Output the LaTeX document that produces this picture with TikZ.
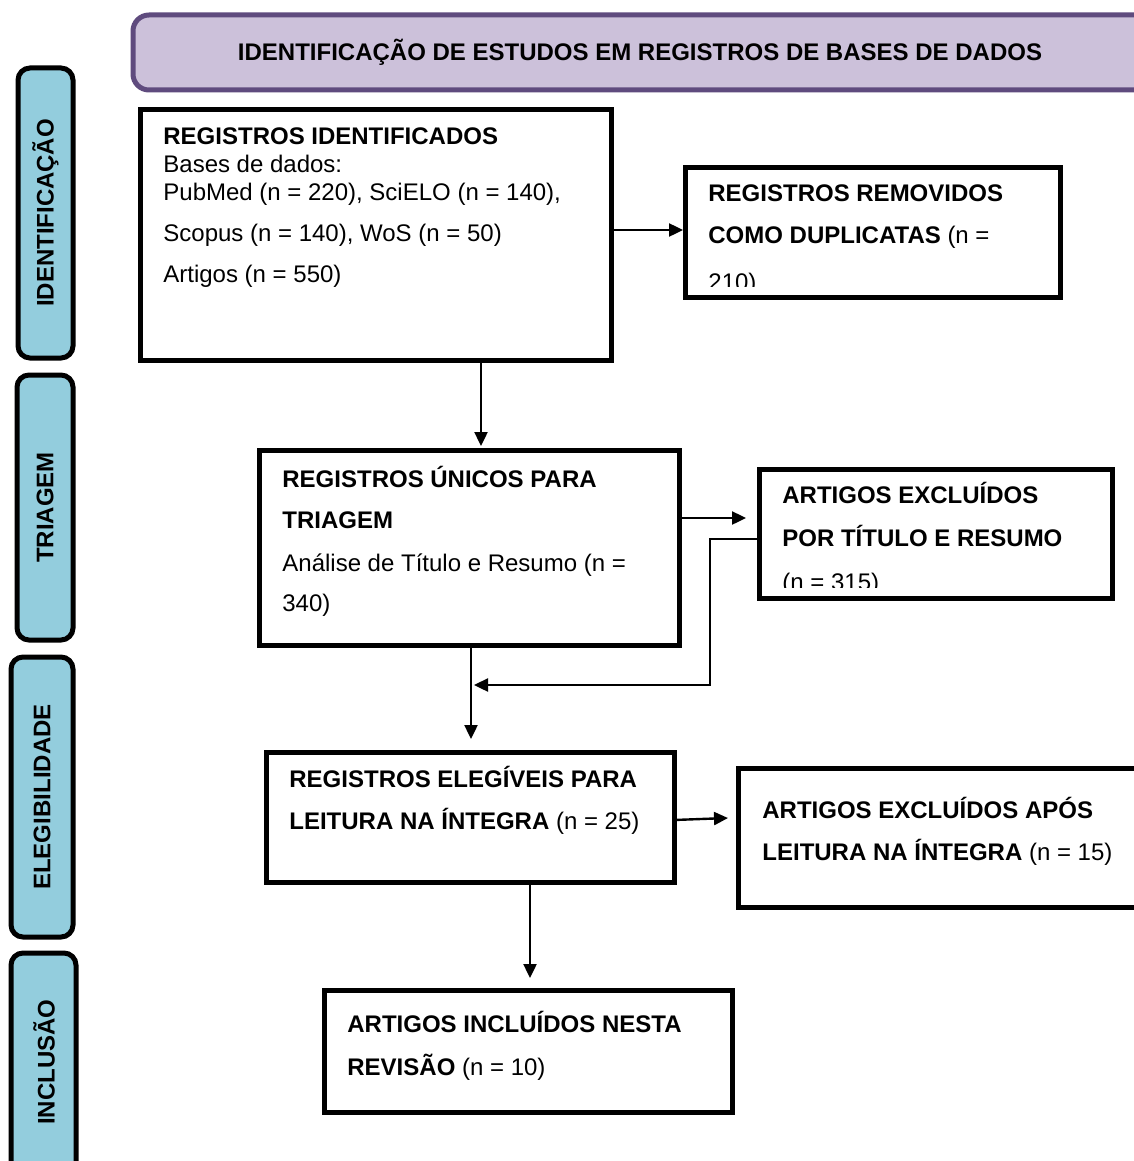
\documentclass[tikz,border=0pt]{standalone}
\usepackage{fontspec}
\setmainfont{Liberation Sans}
\usetikzlibrary{fit,arrows.meta}
\definecolor{banfill}{HTML}{CCC1DA}
\definecolor{banedge}{HTML}{5F4B7E}
\definecolor{tabblue}{HTML}{93CDDD}
\newcommand{\fsz}{\fontsize{12}{14.4}\selectfont}
\tikzset{
  box/.style={draw, line width=2.5pt, fill=white, inner sep=0pt},
  tabbox/.style={draw, line width=2.5pt, fill=tabblue, rounded corners=6pt, inner sep=0pt},
  txt/.style={anchor=base west, inner sep=0pt, font=\fsz},
  tablabel/.style={rotate=90, inner sep=0pt, font=\fsz\bfseries},
  conn/.style={line width=1.2pt, -{Triangle[length=7pt,width=6.5pt]}},
}
\begin{document}
\begin{tikzpicture}[x=0.5pt,y=-0.5pt]
\clip (0,0) rectangle (1134,1161);
\fill[white] (0,0) rectangle (1134,1161);

% banner
\node[draw=banedge, line width=2.5pt, fill=banfill, rounded corners=8pt, inner sep=0pt, fit={(133,15)(1170,90)}] (ban) {};
\node[inner sep=0pt, font=\fsz\bfseries, anchor=base] (bant) at (640,61) {IDENTIFICAÇÃO DE ESTUDOS EM REGISTROS DE BASES DE DADOS};

% side tabs
\node[tabbox, fit={(18,68)(73,358)}] (t1) {};
\node[tablabel] (t1l) at (t1.center) {IDENTIFICAÇÃO};
\node[tabbox, fit={(17,375)(73,640)}] (t2) {};
\node[tablabel] (t2l) at (t2.center) {TRIAGEM};
\node[tabbox, fit={(11,657)(73,937)}] (t3) {};
\node[tablabel] (t3l) at (t3.center) {ELEGIBILIDADE};
\node[tabbox, fit={(11,953)(76,1175)}] (t4) {};
\node[tablabel] (t4l) at (44,1062) {INCLUSÃO};

% boxes
\node[box, fit={(140,110)(611,360)}] (b1) {};
\node[box, fit={(685,167)(1060,297)}] (b2) {};
\node[box, fit={(259,450)(679,645)}] (b3) {};
\node[box, fit={(759,469)(1112,598)}] (b4) {};
\node[box, fit={(266,752)(674,882)}] (b5) {};
\node[box, fit={(738,768)(1170,907)}] (b6) {};
\node[box, fit={(324,990)(732,1112)}] (b7) {};

% box texts
\node[txt] (b1a) at (163,144) {\textbf{REGISTROS IDENTIFICADOS}};
\node[txt] (b1b) at (163,172) {Bases de dados:};
\node[txt] (b1c) at (163,200) {PubMed (n = 220), SciELO (n = 140),};
\node[txt] (b1d) at (163,241) {Scopus (n = 140), WoS (n = 50)};
\node[txt] (b1e) at (163,282) {Artigos (n = 550)};

\node[txt] (b2a) at (708,201) {\textbf{REGISTROS REMOVIDOS}};
\node[txt] (b2b) at (708,243) {\textbf{COMO DUPLICATAS} (n =};
\begin{scope}
\clip (690,170) rectangle (1055,286);
\node[txt] (b2c) at (708,290) {210)};
\end{scope}

\node[txt] (b3a) at (282,487) {\textbf{REGISTROS ÚNICOS PARA}};
\node[txt] (b3b) at (282,528) {\textbf{TRIAGEM}};
\node[txt] (b3c) at (282,571) {Análise de Título e Resumo (n =};
\node[txt] (b3d) at (282,611) {340)};

\node[txt] (b4a) at (782,503) {\textbf{ARTIGOS EXCLUÍDOS}};
\node[txt] (b4b) at (782,546) {\textbf{POR TÍTULO E RESUMO}};
\begin{scope}
\clip (765,470) rectangle (1105,587);
\node[txt] (b4c) at (782,590) {(n = 315)};
\end{scope}

\node[txt] (b5a) at (289,787) {\textbf{REGISTROS ELEGÍVEIS PARA}};
\node[txt] (b5b) at (289,829) {\textbf{LEITURA NA ÍNTEGRA} (n = 25)};

\node[txt] (b6a) at (762,818) {\textbf{ARTIGOS EXCLUÍDOS APÓS}};
\node[txt] (b6b) at (762,860) {\textbf{LEITURA NA ÍNTEGRA} (n = 15)};

\node[txt] (b7a) at (347,1032) {\textbf{ARTIGOS INCLUÍDOS NESTA}};
\node[txt] (b7b) at (347,1075) {\textbf{REVISÃO} (n = 10)};

% helper coordinates
\coordinate (c12a) at (611,230);
\coordinate (c12b) at (683,230);
\coordinate (c13a) at (481,360);
\coordinate (c13b) at (481,446);
\coordinate (c34a) at (679,518);
\coordinate (c34b) at (746,518);
\coordinate (c4a) at (759,539);
\coordinate (c4b) at (710,539);
\coordinate (c4c) at (710,685);
\coordinate (j) at (474,685);
\coordinate (c35a) at (471,645);
\coordinate (c35b) at (471,739);
\coordinate (c56a) at (674,820);
\coordinate (c56b) at (728,818);
\coordinate (c57a) at (530,882);
\coordinate (c57b) at (530,978);

% connectors
\draw[conn] (c12a) -- (c12b);
\draw[conn] (c13a) -- (c13b);
\draw[conn] (c34a) -- (c34b);
\draw[conn] (c4a) -- (c4b) -- (c4c) -- (j);
\draw[conn] (c35a) -- (c35b);
\draw[conn] (c56a) -- (c56b);
\draw[conn] (c57a) -- (c57b);
\end{tikzpicture}
\end{document}
